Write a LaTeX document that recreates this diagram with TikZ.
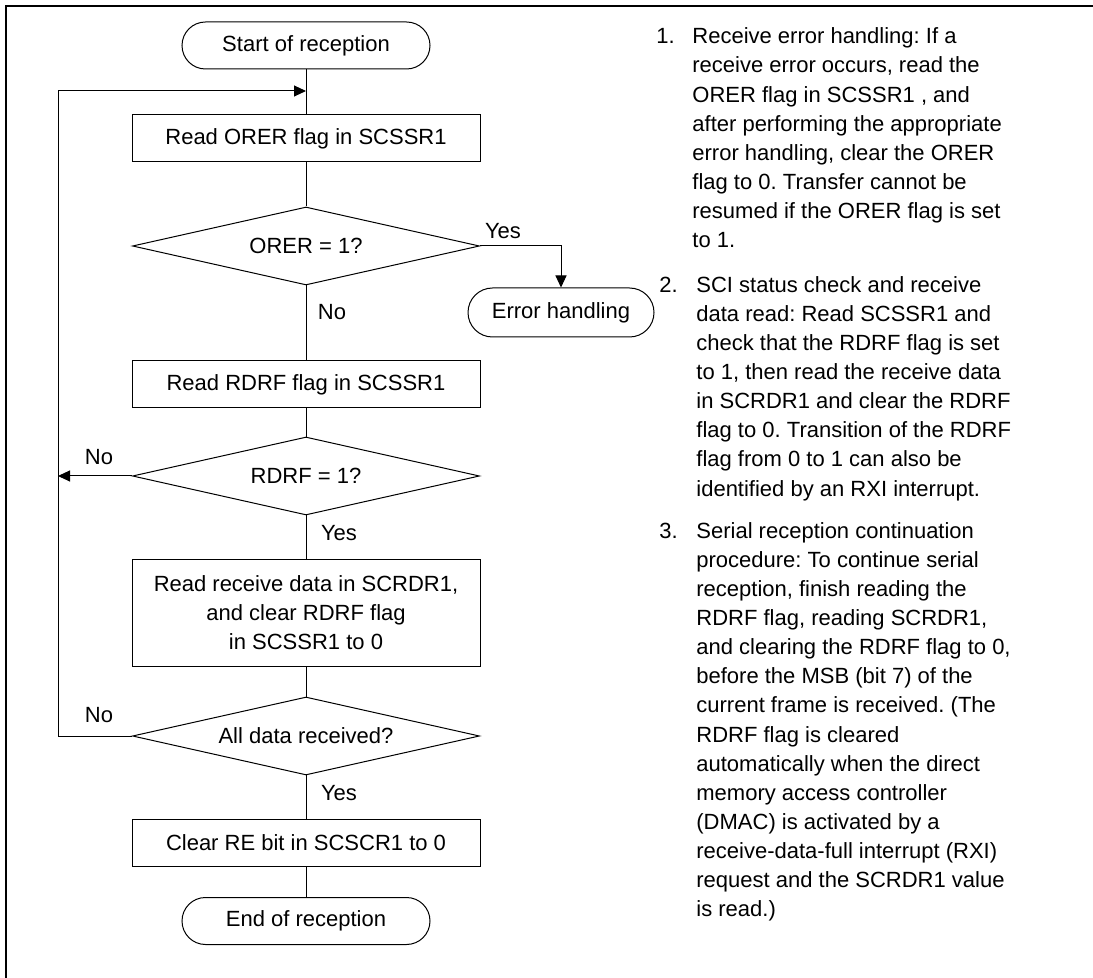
\documentclass[tikz,border=0pt]{standalone}
\usepackage{fontspec}
\setmainfont{Liberation Sans}
\usetikzlibrary{shapes.geometric,arrows.meta}
\frenchspacing
\begin{document}
\begin{tikzpicture}[x=0.5pt,y=-0.5pt,
  every node/.style={font=\fontsize{11}{14.55}\selectfont},
  proc/.style={draw, line width=0.5pt, minimum width=174pt, minimum height=23.5pt, inner sep=0pt, align=center},
  term/.style={draw, line width=0.5pt, rounded corners=11.75pt, minimum width=124pt, minimum height=23.5pt, inner sep=0pt},
  dec/.style={draw, diamond, shape aspect=4.45, line width=0.5pt, minimum width=173.5pt, minimum height=39pt, inner sep=0pt},
  flow/.style={line width=0.5pt},
  arr/.style={flow, -{Triangle[length=6pt,width=5.5pt]}},
  lbl/.style={inner sep=0pt},
  note/.style={inner sep=0pt, anchor=north west, align=left},
]
\useasboundingbox (0,0) rectangle (1093,978);
\draw[line width=1pt] (6,1000) -- (6,6) -- (1110,6);

% flowchart nodes
\node[term] (start) at (306,45.5) {Start of reception};
\node[proc] (b1) at (306,138.5) {Read ORER flag in SCSSR1};
\node[dec] (d1) at (306,246) {ORER = 1?};
\node[term, minimum width=93pt, minimum height=24.5pt, rounded corners=12.25pt] (err) at (561,312.5) {Error handling};
\node[proc] (b2) at (306,384.5) {Read RDRF flag in SCSSR1};
\node[dec] (d2) at (306,476) {RDRF = 1?};
\node[proc, minimum height=53pt] (b3) at (306,613) {Read receive data in SCRDR1,\\and clear RDRF flag\\in SCSSR1 to 0};
\node[dec] (d3) at (306,736) {All data received?};
\node[proc] (b4) at (306,843) {Clear RE bit in SCSCR1 to 0};
\node[term] (end) at (306,921) {End of reception};

% helper coordinates
\coordinate (jt) at (306,91);
\coordinate (lt) at (58,91);
\coordinate (lm) at (58,476);
\coordinate (lb) at (58,736);

% connectors
\draw[flow] (start) -- (b1);
\draw[arr] (d3.west) -- (lb) -- (lt) -- (jt);
\draw[flow] (b1) -- (d1);
\draw[arr] (d1.east) -| (err.north);
\draw[flow] (d1) -- (b2);
\draw[flow] (b2) -- (d2);
\draw[arr] (d2.west) -- (lm);
\draw[flow] (d2) -- (b3);
\draw[flow] (b3) -- (d3);
\draw[flow] (d3) -- (b4);
\draw[flow] (b4) -- (end);

% labels
\node[lbl] (y1) at (503,231) {Yes};
\node[lbl] (n1) at (332,312) {No};
\node[lbl] (n2) at (99,457) {No};
\node[lbl] (y2) at (339,533.5) {Yes};
\node[lbl] (n3) at (99,715) {No};
\node[lbl] (y3) at (339,793.5) {Yes};

% notes
\node[note] (k1) at (656,23.1) {\strut 1.};
\node[note] (t1) at (692,23.1) {\strut Receive error handling: If a\\
receive error occurs, read the\\
ORER flag in SCSSR1 , and\\
after performing the appropriate\\
error handling, clear the ORER\\
flag to 0. Transfer cannot be\\
resumed if the ORER flag is set\\
to 1.};
\node[note] (k2) at (659,271.6) {\strut 2.};
\node[note] (t2) at (696,271.6) {\strut SCI status check and receive\\
data read: Read SCSSR1 and\\
check that the RDRF flag is set\\
to 1, then read the receive data\\
in SCRDR1 and clear the RDRF\\
flag to 0. Transition of the RDRF\\
flag from 0 to 1 can also be\\
identified by an RXI interrupt.};
\node[note] (k3) at (659,517.6) {\strut 3.};
\node[note] (t3) at (696,517.6) {\strut Serial reception continuation\\
procedure: To continue serial\\
reception, finish reading the\\
RDRF flag, reading SCRDR1,\\
and clearing the RDRF flag to 0,\\
before the MSB (bit 7) of the\\
current frame is received. (The\\
RDRF flag is cleared\\
automatically when the direct\\
memory access controller\\
(DMAC) is activated by a\\
receive-data-full interrupt (RXI)\\
request and the SCRDR1 value\\
is read.)};
\end{tikzpicture}
\end{document}
